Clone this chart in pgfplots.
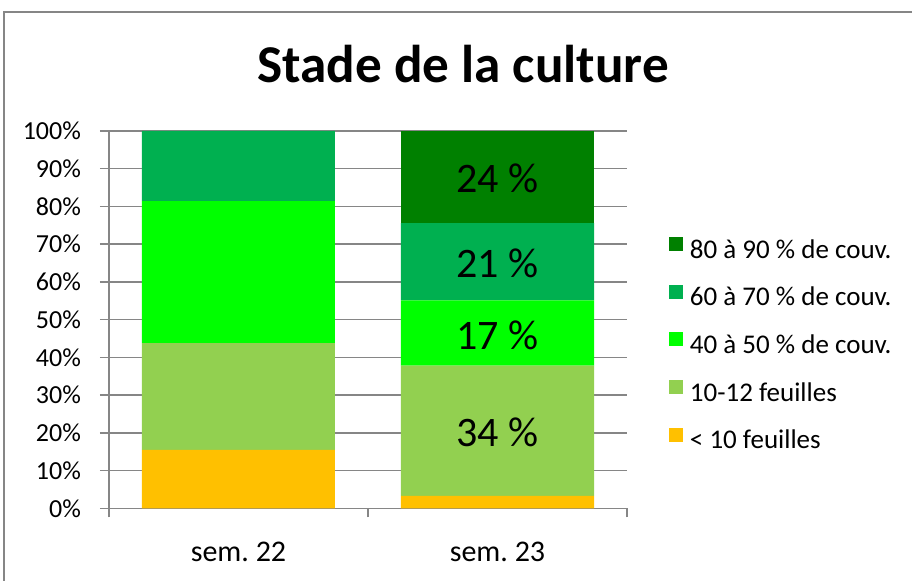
\documentclass[border=0pt]{standalone}
\usepackage{pgfplots}
\pgfplotsset{compat=1.18}
\usepackage{fontspec}
\setmainfont{Carlito}
\definecolor{cA}{HTML}{FFC000}
\definecolor{cB}{HTML}{92D050}
\definecolor{cC}{HTML}{00FF00}
\definecolor{cD}{HTML}{00B050}
\definecolor{cE}{HTML}{008000}
\definecolor{gridc}{RGB}{134,134,134}
\begin{document}
\begin{tikzpicture}
\useasboundingbox (0,0) rectangle (456pt,290.5pt);
\draw[gridc, line width=0.75pt] (2pt,-5pt) -- (2pt,284.5pt) -- (470pt,284.5pt);
\node[font=\fontsize{26.6}{30}\selectfont\bfseries, anchor=base, inner sep=0pt] at (231.5pt,249.15pt) {Stade de la culture};
\begin{axis}[
  at={(54.5pt,36.35pt)}, anchor=south west,
  scale only axis, width=259pt, height=188.65pt,
  ybar stacked, bar width=96.5pt,
  xmin=-0.5, xmax=1.5, ymin=0, ymax=100,
  xtick={-0.5,0.5,1.5},
  x tick label as interval,
  xticklabels={sem.\ 22, sem.\ 23},
  ytick={0,10,...,100},
  yticklabel={\pgfmathprintnumber{\tick}\%},
  /pgf/number format/assume math mode=true,
  ymajorgrids, grid style={gridc, line width=0.75pt},
  axis x line*=bottom, axis y line*=left,
  axis line style={-, gridc, line width=0.75pt},
  tick style={gridc, line width=0.75pt},
  tick align=outside, major tick length=4.5pt,
  xticklabel style={font=\fontsize{15}{18}\selectfont, yshift=-9pt},
  yticklabel style={font=\fontsize{13}{15}\selectfont, xshift=-6pt},
  legend image code/.code={\fill[#1] (0pt,0.5pt) rectangle (7pt,7.5pt);},
  reverse legend,
  legend cell align=left,
  legend style={draw=none, fill=none, inner sep=0pt, outer sep=0pt,
    at={(1.081,0.719)}, anchor=north west,
    font=\fontsize{13.5}{16}\selectfont,
    row sep=10.35pt,
    nodes={inner sep=0pt, text height=9pt, text depth=3pt},
    /tikz/every odd column/.append style={column sep=3.5pt}},
]
\addplot[fill=cA, draw=none] coordinates {(0,15.5) (1,3.3)};
\addplot[fill=cB, draw=none] coordinates {(0,28.3) (1,34.5)};
\addplot[fill=cC, draw=none] coordinates {(0,37.6) (1,17.3)};
\addplot[fill=cD, draw=none] coordinates {(0,18.6) (1,20.5)};
\addplot[fill=cE, draw=none] coordinates {(0,0) (1,24.4)};
\legend{< 10 feuilles, 10-12 feuilles, 40 à 50 \% de couv., 60 à 70 \% de couv., 80 à 90 \% de couv.}
\end{axis}
\begin{axis}[
  at={(54.5pt,36.35pt)}, anchor=south west,
  scale only axis, width=259pt, height=188.65pt,
  xmin=-0.5, xmax=1.5, ymin=0, ymax=100,
  hide axis,
]
\addplot[draw=none, mark=none, nodes near coords, point meta=explicit symbolic,
  every node near coord/.append style={anchor=base, inner sep=0pt, font=\fontsize{21}{25}\selectfont, text=black}]
  coordinates {(1,83.6) [24 \%] (1,61.2) [21 \%] (1,42.1) [17 \%] (1,16.3) [34 \%]};
\end{axis}
\end{tikzpicture}
\end{document}
